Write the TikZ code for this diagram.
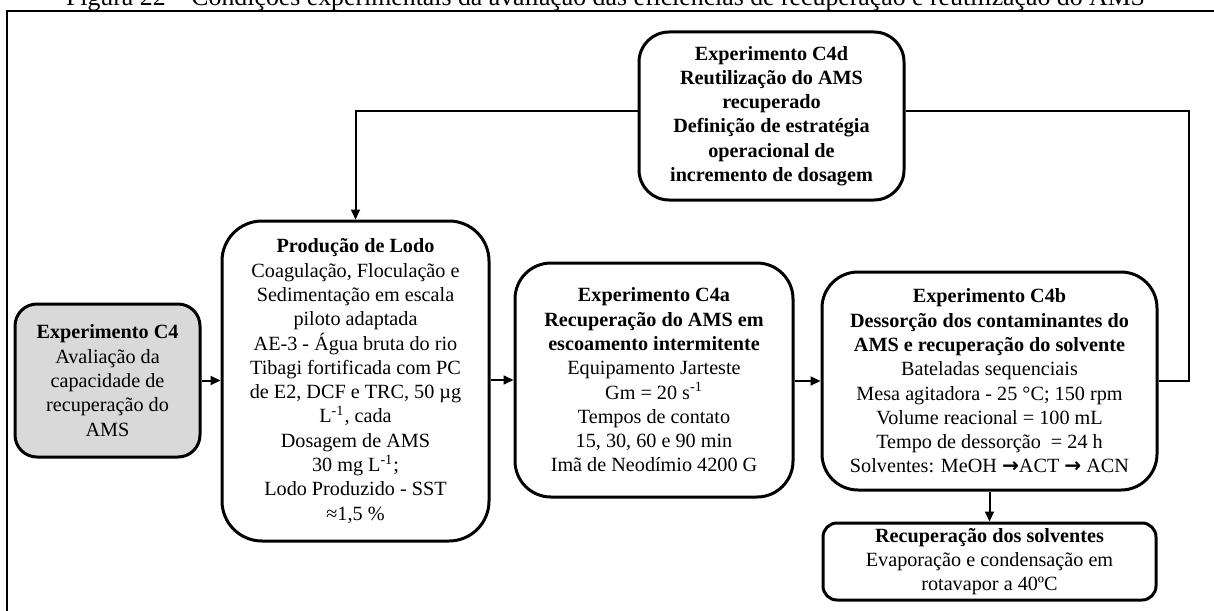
\documentclass[tikz,border=0pt]{standalone}
\usepackage{fontspec}
\setmainfont{Liberation Serif}
\newfontfamily\setafonte{DejaVu Sans}
\newcommand{\setasolv}{{\setafonte\bfseries →}}
\usetikzlibrary{arrows.meta}
\tikzset{
  caixa/.style={draw, line width=1.5pt, align=center, inner sep=2pt},
  seta/.style={line width=1pt, -{Triangle[length=5pt,width=4.5pt]}},
  linha/.style={line width=1pt}
}
\begin{document}
\begin{tikzpicture}[x=0.5pt,y=-0.5pt,font=\fontsize{10.1}{12.15}\selectfont]
        \useasboundingbox (0,0) rectangle (1214,610);
        \clip (0,0) rectangle (1214,610);
        \fill[white] (0,0) rectangle (1214,610);
        \node[anchor=base, font=\fontsize{12.9}{15}\selectfont] (titulo) at (605.5,6) {Figura 22 -- Condições experimentais da avaliação das eficiências de recuperação e reutilização do AMS};
        \draw[line width=1pt] (7,11) rectangle (1230,630);
        \node[caixa, fill={rgb,255:red,217;green,217;blue,217}, rounded corners=11pt,
              minimum width=92.5pt, minimum height=76.5pt] (c4) at (107.5,380.5)
              {\textbf{Experimento C4}\\Avaliação da\\capacidade de\\recuperação do\\AMS};
        \node[caixa, rounded corners=20pt, minimum width=133.5pt, minimum height=160pt] (prod) at (355.5,381)
              {\textbf{Produção de Lodo}\\Coagulação, Floculação e\\Sedimentação em escala\\piloto adaptada\\
               AE-3 - Água bruta do rio\\Tibagi fortificada com PC\\de E2, DCF e TRC, 50 µg\\L\textsuperscript{-1}, cada\\
               Dosagem de AMS\\30 mg L\textsuperscript{-1};\\Lodo Produzido - SST\\≈1,5 \%};
        \node[caixa, rounded corners=18pt, minimum width=139pt, minimum height=117pt] (c4a) at (654,380)
              {\textbf{Experimento C4a}\\\textbf{Recuperação do AMS em}\\\textbf{escoamento intermitente}\\
               Equipamento Jarteste\\Gm = 20 s\textsuperscript{-1}\\Tempos de contato\\15, 30, 60 e 90 min\\Imã de Neodímio 4200 G};
        \node[caixa, rounded corners=18pt, minimum width=167.5pt, minimum height=109pt] (c4b) at (989.5,381)
              {\textbf{Experimento C4b}\\\textbf{Dessorção dos contaminantes do}\\\textbf{AMS e recuperação do solvente}\\
               Bateladas sequenciais\\Mesa agitadora - 25 °C; 150 rpm\\Volume reacional = 100 mL\\
               Tempo de dessorção \ = 24 h\\Solventes: MeOH \setasolv ACT \setasolv{} ACN};
        \node[caixa, rounded corners=15pt, minimum width=132.5pt, minimum height=84pt] (c4d) at (771.5,116)
              {\textbf{Experimento C4d}\\\textbf{Reutilização do AMS}\\\textbf{recuperado}\\
               \textbf{Definição de estratégia}\\\textbf{operacional de}\\\textbf{incremento de dosagem}};
        \node[caixa, rounded corners=7pt, minimum width=166.5pt, minimum height=38.5pt] (rec) at (989.5,561.5)
              {\textbf{Recuperação dos solventes}\\Evaporação e condensação em\\rotavapor a 40ºC};
        \coordinate (volta) at (1189,111);
        \draw[seta] (c4.east) -- (c4.east -| prod.west);
        \draw[seta] (prod.east |- c4a.west) -- (c4a.west);
        \draw[seta] (c4a.east |- c4b.west) -- (c4b.west);
        \draw[seta] (c4b.south) -- (rec.north);
        \draw[linha] (c4b.east) -| (volta) -- (volta -| c4d.east);
        \draw[seta] (volta -| c4d.west) -| (prod.north);
\end{tikzpicture}
\end{document}
